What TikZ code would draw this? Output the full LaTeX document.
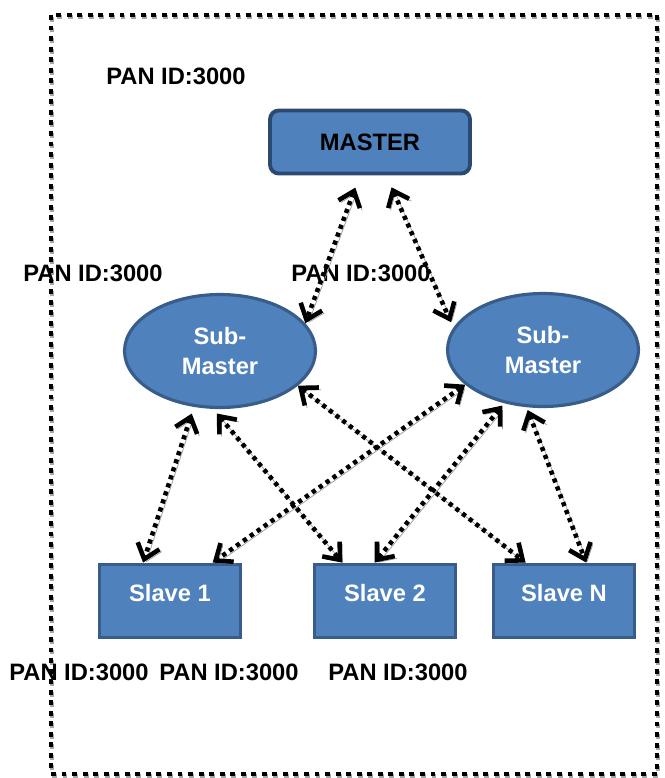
\documentclass[tikz,border=0pt]{standalone}
\usepackage{fontspec}
\setmainfont{Liberation Sans}
\usetikzlibrary{shapes.geometric,arrows.meta}

\definecolor{nodefill}{HTML}{4F81BD}
\definecolor{nodeline}{HTML}{385D8A}
\definecolor{masterline}{HTML}{2C4A70}

\begin{document}
\begin{tikzpicture}[x=0.02cm, y=-0.02cm,
    every node/.style={font=\fontsize{13.5}{17}\selectfont\bfseries},
    masterbox/.style={draw=masterline, line width=2.2pt, fill=nodefill, rounded corners=5pt,
        minimum width=4.0cm, minimum height=1.26cm, inner sep=0pt},
    subnode/.style={ellipse, draw=nodeline, line width=1.8pt, fill=nodefill, text=white,
        align=center, minimum width=3.82cm, minimum height=2.26cm, inner sep=0pt},
    slavebox/.style={draw=nodeline, line width=2.2pt, fill=nodefill, text=white,
        minimum width=2.82cm, minimum height=1.46cm, inner sep=0pt,
        text height=0.34cm, text depth=0.32cm},
    barb/.tip={Straight Barb[length=8pt,width=13pt,line width=2.6pt]},
    link/.style={line width=2.6pt, dash pattern=on 2.4pt off 2.4pt,
        barb-barb,
        preaction={draw=black!40, transform canvas={shift={(1.3pt,-1.3pt)}}}}]

    \useasboundingbox (0,0) rectangle (665,778);

    % Outer frame
    \draw[black!35, line width=2.8pt, dash pattern=on 2.8pt off 3.2pt] (52,17) rectangle (658,776);
    \draw[line width=2.8pt, dash pattern=on 2.8pt off 3.2pt] (51,15) rectangle (657,774);

    % Nodes
    \node[masterbox] (master) at (370,142) {MASTER};
    \node[subnode] (sm1) at (220,351) {Sub-\\Master};
    \node[subnode] (sm2) at (543,350) {Sub-\\Master};
    \node[slavebox] (s1) at (170,601) {Slave 1};
    \node[slavebox] (s2) at (385,601) {Slave 2};
    \node[slavebox] (sN) at (564,601) {Slave N};

    % PAN ID labels
    \node (pantop) at (176,76) {PAN ID:3000};
    \node (pansm1) at (93,273) {PAN ID:3000};
    \node (pansm2) at (361,273) {PAN ID:3000};
    \node (pans1) at (79,672) {PAN ID:3000};
    \node (pans2) at (229,672) {PAN ID:3000};
    \node (pansN) at (398,672) {PAN ID:3000};

    % Master to sub-masters
    \draw[link, shorten <=0.26cm] (master.253) -- (sm1.18);
    \draw[link, shorten <=0.26cm, shorten >=0.12cm] (master.296) -- (sm2.166);

    % Left sub-master to slaves
    \draw[link, shorten <=0.14cm] (sm1.245) -- (s1.125);
    \draw[link, shorten <=0.12cm] (sm1.263) -- (s2.138);
    \draw[link] (sm1.336) -- (sN.135);

    % Right sub-master to slaves
    \draw[link] (sm2.204) -- (s1.42);
    \draw[link, shorten <=0.06cm] (sm2.234) -- (s2.105);
    \draw[link, shorten <=0.06cm] (sm2.254) -- (sN.60);
\end{tikzpicture}
\end{document}
